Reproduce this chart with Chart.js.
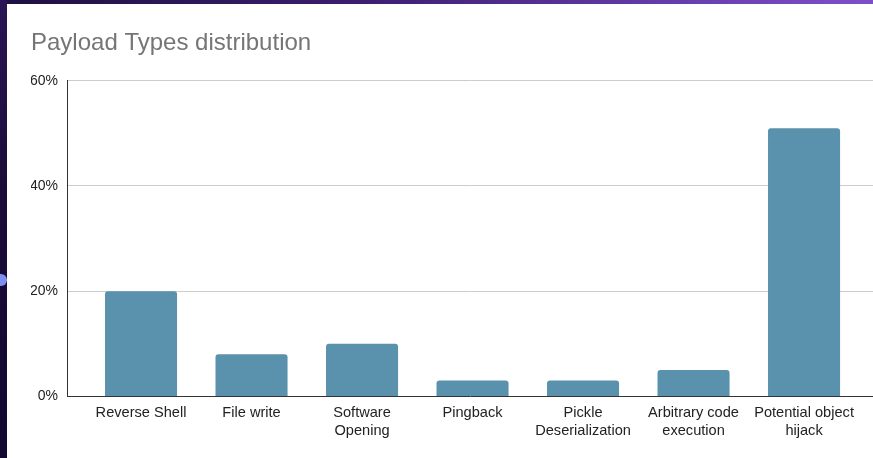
<!DOCTYPE html>
<html>
<head>
<meta charset="utf-8">
<script src="https://cdn.jsdelivr.net/npm/chart.js@4.4.1/dist/chart.umd.min.js"></script>
<style>
  html, body { margin: 0; padding: 0; }
  body {
    width: 873px; height: 458px; overflow: hidden; position: relative;
    background: linear-gradient(90deg, #1f0f3f 0%, #3a1d6e 40%, #6a3fb0 80%, #7e50c8 100%);
  }
  #leftstrip {
    position: absolute; left: 0; top: 0; width: 7px; height: 458px;
    background: linear-gradient(180deg, #2a1455 0%, #1a0c3a 40%, #120830 100%);
  }
  #dot {
    position: absolute; left: -5px; top: 274px; width: 12px; height: 12px;
    border-radius: 50%; background: #7f8ff0;
  }
  #panel {
    position: absolute; left: 7px; top: 4px; width: 866px; height: 454px;
    background: #ffffff;
  }
  canvas { display: block; }
</style>
</head>
<body>
<div id="leftstrip"></div>
<div id="dot"></div>
<div id="panel"><canvas id="c" width="866" height="454"></canvas></div>
<script>
const titleText = 'Payload Types distribution';
const categories = [
  ['Reverse Shell'],
  ['File write'],
  ['Software', 'Opening'],
  ['Pingback'],
  ['Pickle', 'Deserialization'],
  ['Arbitrary code', 'execution'],
  ['Potential object', 'hijack']
];
const values = [20, 8, 10, 3, 3, 5, 51];
const yTicks = [0, 20, 40, 60];

const points = values.map((v, i) => ({ x: i, y: v }));
const fontFamily = '"Liberation Sans", Arial, sans-serif';

new Chart(document.getElementById('c'), {
  type: 'bar',
  data: {
    datasets: [{
      data: points,
      backgroundColor: '#5a91ad',
      borderRadius: 3,
      barPercentage: 0.652,
      categoryPercentage: 1.0
    }]
  },
  options: {
    responsive: false,
    animation: false,
    layout: { padding: { left: 24, right: 0, top: 0, bottom: 10 } },
    plugins: {
      legend: { display: false },
      tooltip: { enabled: false },
      title: {
        display: true,
        text: titleText,
        align: 'start',
        color: '#757575',
        font: { family: fontFamily, size: 24, weight: 'normal' },
        padding: { top: 25, bottom: 23, left: 0 }
      }
    },
    scales: {
      x: {
        type: 'linear',
        offset: false,
        grace: 0,
        min: -0.67,
        max: 6.624,
        grid: { display: false, drawTicks: false, offset: false },
        border: { display: true, color: '#333333', width: 1 },
        ticks: {
          stepSize: 1,
          includeBounds: false,
          autoSkip: false,
          maxRotation: 0,
          minRotation: 0,
          padding: 8,
          color: '#222222',
          font: { family: fontFamily, size: 14.6, lineHeight: 1.22 },
          callback: (v) => (Number.isInteger(v) && categories[v]) ? categories[v] : ''
        }
      },
      y: {
        min: 0,
        max: 60,
        afterBuildTicks: (s) => { s.ticks = yTicks.map(v => ({ value: v })); },
        afterFit: (s) => { s.width = 36; },
        grid: {
          drawTicks: false,
          color: (ctx) => ctx.tick && ctx.tick.value === 0 ? 'rgba(0,0,0,0)' : '#cccccc',
          lineWidth: 1
        },
        border: { display: true, color: '#333333', width: 1 },
        ticks: {
          padding: 9,
          color: '#222222',
          font: { family: fontFamily, size: 14 },
          callback: (v) => v + '%'
        }
      }
    }
  }
});
</script>
</body>
</html>
